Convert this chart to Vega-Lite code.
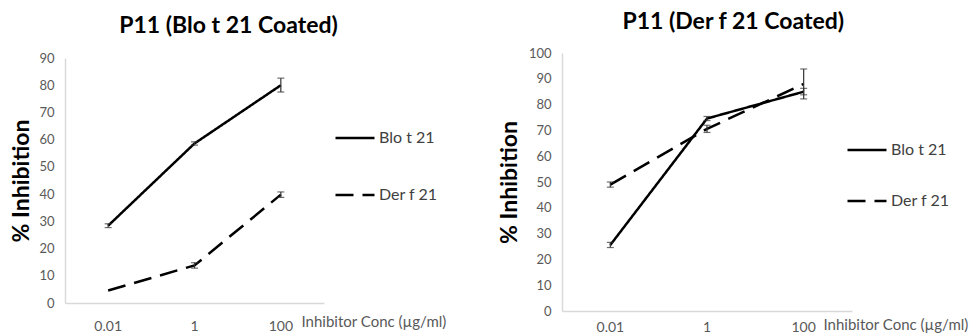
{
  "$schema": "https://vega.github.io/schema/vega-lite/v6.json",
  "padding": {"left": 10, "top": 11, "right": 0, "bottom": 0},
  "background": "white",
  "bounds": "flush",
  "spacing": 238,
  "config": {
    "view": {"stroke": null},
    "font": "Lato",
    "axis": {
      "domainColor": "#d9d9d9",
      "domainWidth": 1.5,
      "ticks": false,
      "grid": false,
      "labelColor": "#595959",
      "labelFont": "Lato",
      "titleFont": "Lato",
      "labelOverlap": false
    },
    "legend": {"labelFont": "Lato"}
  },
  "datasets": {
    "left": [
      {"series": "Blo t 21", "conc": "0.01", "value": 28.4, "lo": 27.7, "hi": 29.1},
      {"series": "Blo t 21", "conc": "1", "value": 58.6, "lo": 58.0, "hi": 59.2},
      {"series": "Blo t 21", "conc": "100", "value": 80.0, "lo": 77.5, "hi": 82.6},
      {"series": "Der f 21", "conc": "0.01", "value": 4.6, "lo": null, "hi": null},
      {"series": "Der f 21", "conc": "1", "value": 13.8, "lo": 12.8, "hi": 14.8},
      {"series": "Der f 21", "conc": "100", "value": 39.8, "lo": 38.8, "hi": 40.8}
    ],
    "right": [
      {"series": "Blo t 21", "conc": "0.01", "value": 25.6, "lo": 24.6, "hi": 26.6},
      {"series": "Blo t 21", "conc": "1", "value": 74.6, "lo": 73.8, "hi": 75.4},
      {"series": "Blo t 21", "conc": "100", "value": 85.0, "lo": 83.8, "hi": 86.3},
      {"series": "Der f 21", "conc": "0.01", "value": 49.0, "lo": 48.0, "hi": 50.0},
      {"series": "Der f 21", "conc": "1", "value": 70.6, "lo": 69.2, "hi": 72.0},
      {"series": "Der f 21", "conc": "100", "value": 88.0, "lo": 82.2, "hi": 93.8}
    ]
  },
  "resolve": {"scale": {"strokeDash": "independent", "x": "independent", "y": "independent"}, "legend": {"strokeDash": "independent"}},
  "hconcat": [
    {
      "width": 259,
      "height": 250,
      "title": {"text": "P11 (Blo t 21 Coated)", "fontSize": 23, "fontWeight": "bold", "font": "Lato", "color": "#000000", "anchor": "middle", "frame": "bounds", "offset": 14},
      "data": {"name": "left"},
      "encoding": {
        "x": {"field": "conc", "type": "ordinal", "sort": ["0.01", "1", "100"],
          "scale": {"paddingInner": 0, "paddingOuter": 0},
          "axis": {"labelAngle": 0, "labelFontSize": 14, "labelPadding": 16, "title": "Inhibitor Conc (µg/ml)", "titleFontSize": 15, "titleFontWeight": "normal", "titleColor": "#595959", "titleAlign": "left", "titleBaseline": "middle", "titleX": 236, "titleY": 18}}
      },
      "layer": [
        {
          "mark": {"type": "line", "color": "black", "strokeWidth": 2.5},
          "encoding": {
            "y": {"field": "value", "type": "quantitative",
              "scale": {"domain": [0, 90], "range": [250, 5], "nice": false},
              "axis": {"values": [0, 10, 20, 30, 40, 50, 60, 70, 80, 90], "labelFontSize": 13, "labelPadding": 11, "title": "% Inhibition", "titleFontSize": 23, "titleFontWeight": "bold", "titleColor": "#000000", "titlePadding": 5}},
            "strokeDash": {"field": "series", "type": "nominal",
              "scale": {"domain": ["Blo t 21", "Der f 21"], "range": [[1, 0], [18, 9]]},
              "legend": {"title": null, "orient": "none", "legendX": 269, "legendY": 64, "symbolType": "stroke", "symbolSize": 1521, "symbolStrokeWidth": 2.5, "symbolStrokeColor": "black", "labelFontSize": 16, "labelColor": "#404040", "labelOffset": 3, "rowPadding": 28}}
          }
        },
        {
          "mark": {"type": "rule", "color": "#333333", "strokeWidth": 1.2},
          "encoding": {"y": {"field": "lo", "type": "quantitative",
              "axis": {"values": [0, 10, 20, 30, 40, 50, 60, 70, 80, 90], "labelFontSize": 13, "labelPadding": 11, "title": "% Inhibition", "titleFontSize": 23, "titleFontWeight": "bold", "titleColor": "#000000", "titlePadding": 5}}, "y2": {"field": "hi"}}
        },
        {
          "mark": {"type": "tick", "color": "#333333", "size": 7, "thickness": 1.2},
          "encoding": {"y": {"field": "lo", "type": "quantitative",
              "axis": {"values": [0, 10, 20, 30, 40, 50, 60, 70, 80, 90], "labelFontSize": 13, "labelPadding": 11, "title": "% Inhibition", "titleFontSize": 23, "titleFontWeight": "bold", "titleColor": "#000000", "titlePadding": 5}}}
        },
        {
          "mark": {"type": "tick", "color": "#333333", "size": 7, "thickness": 1.2},
          "encoding": {"y": {"field": "hi", "type": "quantitative",
              "axis": {"values": [0, 10, 20, 30, 40, 50, 60, 70, 80, 90], "labelFontSize": 13, "labelPadding": 11, "title": "% Inhibition", "titleFontSize": 23, "titleFontWeight": "bold", "titleColor": "#000000", "titlePadding": 5}}}
        }
      ]
    },
    {
      "width": 290,
      "height": 258,
      "title": {"text": "P11 (Der f 21 Coated)", "fontSize": 23, "fontWeight": "bold", "font": "Lato", "color": "#000000", "anchor": "middle", "frame": "bounds", "offset": 13},
      "data": {"name": "right"},
      "encoding": {
        "x": {"field": "conc", "type": "ordinal", "sort": ["0.01", "1", "100"],
          "scale": {"paddingInner": 0, "paddingOuter": 0},
          "axis": {"labelAngle": 0, "labelFontSize": 14, "labelPadding": 9, "title": "Inhibitor Conc (µg/ml)", "titleFontSize": 15, "titleFontWeight": "normal", "titleColor": "#595959", "titleAlign": "left", "titleBaseline": "middle", "titleX": 261, "titleY": 13}}
      },
      "layer": [
        {
          "mark": {"type": "line", "color": "black", "strokeWidth": 2.5},
          "encoding": {
            "y": {"field": "value", "type": "quantitative",
              "scale": {"domain": [0, 100], "nice": false},
              "axis": {"values": [0, 10, 20, 30, 40, 50, 60, 70, 80, 90, 100], "labelFontSize": 13, "labelPadding": 11, "title": "% Inhibition", "titleFontSize": 23, "titleFontWeight": "bold", "titleColor": "#000000", "titlePadding": 7}},
            "strokeDash": {"field": "series", "type": "nominal",
              "scale": {"domain": ["Blo t 21", "Der f 21"], "range": [[1, 0], [18, 9]]},
              "legend": {"title": null, "orient": "none", "legendX": 284, "legendY": 76, "symbolType": "stroke", "symbolSize": 1521, "symbolStrokeWidth": 2.5, "symbolStrokeColor": "black", "labelFontSize": 16, "labelColor": "#404040", "labelOffset": 3, "rowPadding": 22}}
          }
        },
        {
          "mark": {"type": "rule", "color": "#333333", "strokeWidth": 1.2},
          "encoding": {"y": {"field": "lo", "type": "quantitative",
              "axis": {"values": [0, 10, 20, 30, 40, 50, 60, 70, 80, 90, 100], "labelFontSize": 13, "labelPadding": 11, "title": "% Inhibition", "titleFontSize": 23, "titleFontWeight": "bold", "titleColor": "#000000", "titlePadding": 7}}, "y2": {"field": "hi"}}
        },
        {
          "mark": {"type": "tick", "color": "#333333", "size": 7, "thickness": 1.2},
          "encoding": {"y": {"field": "lo", "type": "quantitative",
              "axis": {"values": [0, 10, 20, 30, 40, 50, 60, 70, 80, 90, 100], "labelFontSize": 13, "labelPadding": 11, "title": "% Inhibition", "titleFontSize": 23, "titleFontWeight": "bold", "titleColor": "#000000", "titlePadding": 7}}}
        },
        {
          "mark": {"type": "tick", "color": "#333333", "size": 7, "thickness": 1.2},
          "encoding": {"y": {"field": "hi", "type": "quantitative",
              "axis": {"values": [0, 10, 20, 30, 40, 50, 60, 70, 80, 90, 100], "labelFontSize": 13, "labelPadding": 11, "title": "% Inhibition", "titleFontSize": 23, "titleFontWeight": "bold", "titleColor": "#000000", "titlePadding": 7}}}
        }
      ]
    }
  ]
}
